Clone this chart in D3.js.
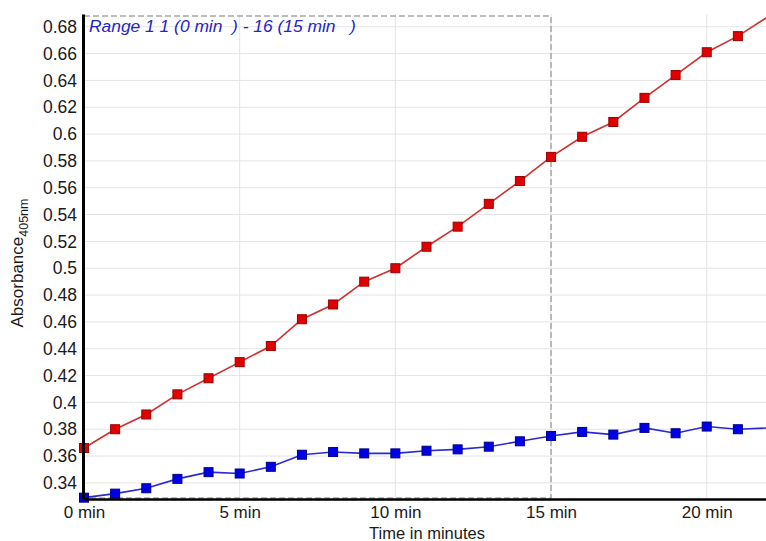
<!DOCTYPE html>
<html>
<head>
<meta charset="utf-8">
<script src="https://cdn.jsdelivr.net/npm/d3@7"></script>
<style>
    html, body { margin: 0; padding: 0; background: #fff; }
    svg { display: block; font-family: "Liberation Sans", Arial, sans-serif; }
</style>
</head>
<body>
<div id="body"></div>
<script>
// minutes 0..22
let minutes = [0, 1, 2, 3, 4, 5, 6, 7, 8, 9, 10, 11, 12, 13, 14, 15, 16, 17, 18, 19, 20, 21, 22];
let redValues = [0.366, 0.380, 0.391, 0.406, 0.418, 0.430, 0.442, 0.462, 0.473, 0.490, 0.500, 0.516, 0.531, 0.548, 0.565, 0.583, 0.598, 0.609, 0.627, 0.644, 0.661, 0.673, 0.688];
let blueValues = [0.329, 0.332, 0.336, 0.343, 0.348, 0.347, 0.352, 0.361, 0.363, 0.362, 0.362, 0.364, 0.365, 0.367, 0.371, 0.375, 0.378, 0.376, 0.381, 0.377, 0.382, 0.380, 0.381];
let yTicks = [0.34, 0.36, 0.38, 0.4, 0.42, 0.44, 0.46, 0.48, 0.5, 0.52, 0.54, 0.56, 0.58, 0.6, 0.62, 0.64, 0.66, 0.68];
let xTicks = [0, 5, 10, 15, 20];
let rangeLabel = 'Range 1 1 (0 min  ) - 16 (15 min   )';
let rangeEnd = 15;

let width = 766, height = 541;
let x = d3.scaleLinear().domain([0, 22]).range([84, 769]);
let y = d3.scaleLinear().domain([0.328, 0.6895]).range([499, 14]);

function chart() {
    chart.svg = d3.select('#body').append('svg')
        .attr('width', width)
        .attr('height', height);
    chart.grid();
    chart.rangeBox();
    chart.series(redValues, '#d03030', '#e00000', '#9a0000');
    chart.series(blueValues, '#2a2ad0', '#0000e6', '#00008a');
    chart.axes();
    chart.labels();
}

chart.grid = function () {
    let g = chart.svg.append('g');
    g.selectAll('line.h').data(yTicks).join('line')
        .attr('x1', x(0)).attr('x2', width)
        .attr('y1', d => y(d)).attr('y2', d => y(d))
        .attr('stroke', '#e4e4e4').attr('stroke-width', 1);
    g.selectAll('line.v').data(xTicks.slice(1)).join('line')
        .attr('x1', d => x(d)).attr('x2', d => x(d))
        .attr('y1', y.range()[1]).attr('y2', y.range()[0])
        .attr('stroke', '#e4e4e4').attr('stroke-width', 1);
};

chart.rangeBox = function () {
    chart.svg.append('rect')
        .attr('x', x(0))
        .attr('y', y.range()[1] + 2)
        .attr('width', x(rangeEnd) - x(0))
        .attr('height', y.range()[0] - y.range()[1] - 3)
        .attr('fill', 'none')
        .attr('stroke', '#a8a8a8')
        .attr('stroke-width', 1.5)
        .attr('stroke-dasharray', '6,3');
};

chart.series = function (values, lineColor, fill, border) {
    let pts = minutes.map((m, i) => [m, values[i]]);
    let line = d3.line().x(d => x(d[0])).y(d => y(d[1]));
    chart.svg.append('path')
        .attr('d', line(pts))
        .attr('fill', 'none')
        .attr('stroke', lineColor)
        .attr('stroke-width', 1.6);
    // last point sits just past the right edge, its marker is not shown
    chart.svg.append('g').selectAll('rect').data(pts.filter(d => x(d[0]) < width - 4)).join('rect')
        .attr('x', d => x(d[0]) - 4.5)
        .attr('y', d => y(d[1]) - 4.5)
        .attr('width', 9).attr('height', 9)
        .attr('fill', fill)
        .attr('stroke', border)
        .attr('stroke-width', 1);
};

chart.axes = function () {
    let yAxis = d3.axisLeft(y).tickValues(yTicks).tickSize(0).tickPadding(6)
        .tickFormat(d => String(+d.toFixed(2)));
    let gy = chart.svg.append('g').attr('transform', `translate(${x(0) - 1},0)`).call(yAxis);
    gy.select('.domain').attr('stroke', '#000').attr('stroke-width', 3);
    gy.selectAll('text').attr('font-size', 17.5).attr('fill', '#1a1a1a')
        .attr('font-family', '"Liberation Sans", Arial, sans-serif');

    let xAxis = d3.axisBottom(x).tickValues(xTicks).tickSize(0).tickPadding(7)
        .tickFormat(d => d + ' min');
    let gx = chart.svg.append('g').attr('transform', `translate(0,${y.range()[0]})`).call(xAxis);
    gx.select('.domain').attr('stroke', '#000').attr('stroke-width', 2.5);
    gx.selectAll('text').attr('font-size', 17).attr('fill', '#1a1a1a')
        .attr('font-family', '"Liberation Sans", Arial, sans-serif');
};

chart.labels = function () {
    chart.svg.append('text')
        .attr('x', 89).attr('y', 32)
        .attr('font-size', 17.4)
        .attr('font-style', 'italic')
        .attr('fill', '#2424c8')
        .style('white-space', 'pre')
        .text(rangeLabel);

    chart.svg.append('text')
        .attr('x', 427).attr('y', 539)
        .attr('text-anchor', 'middle')
        .attr('font-size', 16.5)
        .attr('fill', '#1a1a1a')
        .text('Time in minutes');

    let yt = chart.svg.append('text')
        .attr('transform', 'translate(23,263) rotate(-90)')
        .attr('text-anchor', 'middle')
        .attr('font-size', 17)
        .attr('fill', '#1a1a1a');
    yt.append('tspan').text('Absorbance');
    yt.append('tspan').attr('font-size', 12.5).attr('dy', 5).text('405nm');
};

chart();
</script>
</body>
</html>
